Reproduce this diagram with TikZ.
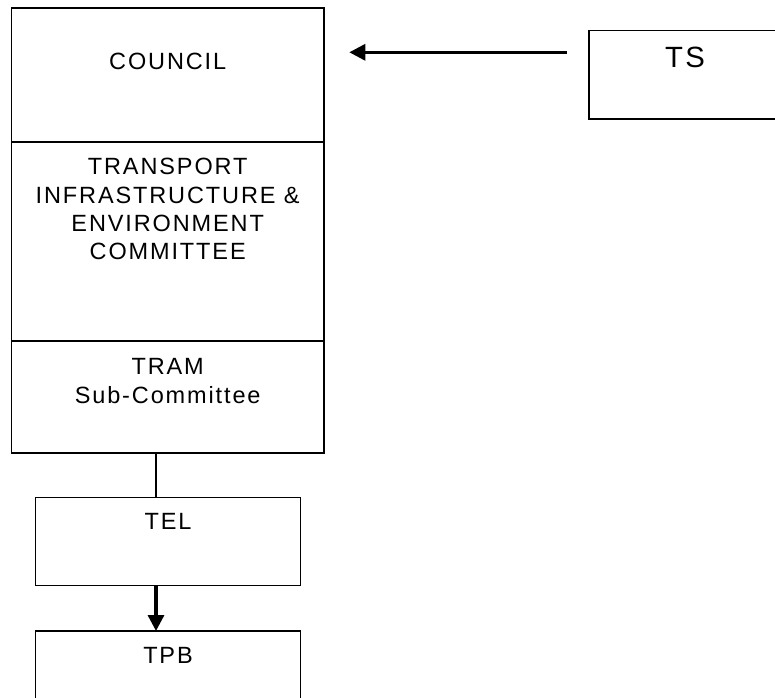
\documentclass[tikz,border=0pt]{standalone}
\usepackage{fontspec}
\setmainfont{Liberation Sans}[LetterSpace=8]
\usetikzlibrary{arrows.meta}
\begin{document}
\begin{tikzpicture}[x=1pt,y=-1pt,
  box/.style={draw,line width=1.4pt,inner sep=0pt,outer sep=0pt,anchor=north west},
  txt/.style={font=\fontsize{23.5}{28.5}\selectfont,anchor=base,inner sep=0pt},
  bigtxt/.style={font=\fontsize{29.3}{34}\selectfont,anchor=base,inner sep=0pt},
  thinline/.style={line width=1.4pt},
  thickarrow/.style={line width=3.2pt,-{Triangle[length=16pt,width=16pt]}}]
\clip (0,0) rectangle (775,697);
% main stacked box
\node[box,minimum width=312.5pt,minimum height=134pt] (council) at (11.5,8) {};
\node[box,minimum width=312.5pt,minimum height=199pt] (tie) at (11.5,142) {};
\node[box,minimum width=312.5pt,minimum height=112pt] (tram) at (11.5,341) {};
\node[txt] (councilt) at (167.7,69.5) {COUNCIL};
\node[txt] (tie1) at (167.7,174.5) {TRANSPORT};
\node[txt] (tie2) at (167.7,203.5) {INFRASTRUCTURE \&};
\node[txt] (tie3) at (167.7,231.5) {ENVIRONMENT};
\node[txt] (tie4) at (167.7,259.5) {COMMITTEE};
\node[txt] (tram1) at (167.7,374.5) {TRAM};
\node[txt] (tram2) at (167.7,403.5) {Sub-Committee};
% TS box
\node[box,minimum width=192pt,minimum height=88.3pt] (ts) at (589,30.7) {};
\node[bigtxt] (tst) at (685,67.5) {TS};
% TEL and TPB
\node[box,minimum width=265pt,minimum height=88pt] (tel) at (35.7,497.7) {};
\node[txt] (telt) at (168,529.8) {TEL};
\node[box,minimum width=265pt,minimum height=88pt] (tpb) at (35.7,631) {};
\node[txt] (tpbt) at (168,663.5) {TPB};
% connectors
\coordinate (xline) at (156,0);
\coordinate (arrowstart) at (566.7,52.3);
\coordinate (arrowend) at (349.3,52.3);
\draw[thickarrow] (arrowstart) -- (arrowend);
\draw[thinline] (xline |- tram.south) -- (xline |- tel.north);
\draw[thickarrow] (xline |- tel.south) -- (xline |- tpb.north);
\end{tikzpicture}
\end{document}
